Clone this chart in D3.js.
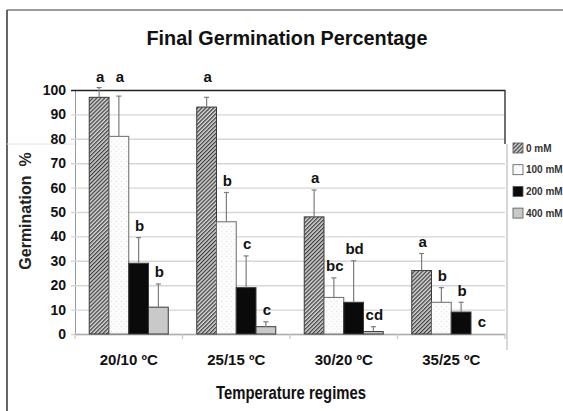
<!DOCTYPE html>
<html>
<head>
<meta charset="utf-8">
<script src="https://cdn.jsdelivr.net/npm/d3@7"></script>
<style>
  html, body { margin: 0; padding: 0; background: #fff; }
  svg { display: block; }
</style>
</head>
<body>
<div id="chart"></div>
<script>
// Data
const categories = ['20/10 ºC', '25/15 ºC', '30/20 ºC', '35/25 ºC'];
const series = ['0 mM', '100 mM', '200 mM', '400 mM'];

const means0 = [97, 93, 48, 26];
const means100 = [81, 46, 15, 13];
const means200 = [29, 19, 13, 9];
const means400 = [11, 3, 1, 0];

const err0 = [4, 4, 11, 7];
const err100 = [16.5, 12, 8, 6];
const err200 = [10.5, 13, 17, 4];
const err400 = [9.5, 2, 2, 0];

const letters0 = ['a', 'a', 'a', 'a'];
const letters100 = ['a', 'b', 'bc', 'b'];
const letters200 = ['b', 'c', 'bd', 'b'];
const letters400 = ['b', 'c', 'cd', 'c'];

const yTicks = [0, 10, 20, 30, 40, 50, 60, 70, 80, 90, 100];

const means = [means0, means100, means200, means400];
const errs = [err0, err100, err200, err400];
const letters = [letters0, letters100, letters200, letters400];

// Layout
const width = 563, height = 411;
const plot = { left: 75, right: 505, top: 90, bottom: 334 };

const svg = d3.select('#chart').append('svg')
  .attr('width', width)
  .attr('height', height);

const defs = svg.append('defs');

// 0 mM: fine upward diagonal hatch
const hatch = defs.append('pattern')
  .attr('id', 'hatch')
  .attr('patternUnits', 'userSpaceOnUse')
  .attr('width', 2.8).attr('height', 2.8)
  .attr('patternTransform', 'rotate(45)');
hatch.append('rect').attr('width', 2.8).attr('height', 2.8).attr('fill', '#d4d4d4');
hatch.append('line').attr('x1', 0.6).attr('y1', 0).attr('x2', 0.6).attr('y2', 2.8)
  .attr('stroke', '#3a3a3a').attr('stroke-width', 1.2);

// 100 mM: white with faint dots
const dots = defs.append('pattern')
  .attr('id', 'dots')
  .attr('patternUnits', 'userSpaceOnUse')
  .attr('width', 5).attr('height', 5);
dots.append('rect').attr('width', 5).attr('height', 5).attr('fill', '#fdfdfd');
dots.append('circle').attr('cx', 1.5).attr('cy', 1.5).attr('r', 0.8).attr('fill', '#e6e6e6');
dots.append('circle').attr('cx', 4).attr('cy', 4).attr('r', 0.8).attr('fill', '#ececec');

const fills = ['url(#hatch)', 'url(#dots)', '#0a0a0a', '#c9c9c9'];

// Scales
const y = d3.scaleLinear().domain([0, 100]).range([plot.bottom, plot.top]);
const x0 = d3.scaleBand().domain(categories)
  .range([plot.left, plot.right])
  .paddingInner(0.265).paddingOuter(0.1325);
const x1 = d3.scaleBand().domain(series).range([0, x0.bandwidth()]);

// Outer frame (left + top)
svg.append('line').attr('x1', 7).attr('y1', 10).attr('x2', width).attr('y2', 10)
  .attr('stroke', '#7a7a7a').attr('stroke-width', 1.6);
svg.append('line').attr('x1', 7).attr('y1', 10).attr('x2', 7).attr('y2', height)
  .attr('stroke', '#555').attr('stroke-width', 1.8);

// faint seam lines
svg.append('line').attr('x1', 7).attr('y1', 144).attr('x2', plot.left).attr('y2', 144)
  .attr('stroke', '#e4e4e4').attr('stroke-width', 1);
svg.append('line').attr('x1', plot.right + 2).attr('y1', 144).attr('x2', plot.right + 2).attr('y2', 350)
  .attr('stroke', '#bdbdbd').attr('stroke-width', 1.2);

// Gridlines + y axis
const yAxis = d3.axisLeft(y).tickValues(yTicks)
  .tickSize(-(plot.right - plot.left)).tickSizeOuter(0).tickPadding(10)
  .tickFormat(d3.format('d'));

const gy = svg.append('g')
  .attr('transform', `translate(${plot.left},0)`)
  .call(yAxis);
gy.select('.domain').attr('stroke', '#9a9a9a');
gy.selectAll('.tick line')
  .attr('x1', -4)
  .attr('stroke', (d) => (d === 100 ? '#222' : '#d6d6d6'))
  .attr('stroke-width', (d) => (d === 100 ? 1.3 : 1.4));
gy.selectAll('.tick text')
  .attr('font-family', '"Liberation Sans", Arial, sans-serif')
  .attr('font-weight', 'bold')
  .attr('font-size', 14)
  .attr('fill', '#111')
  .attr('dx', 1);

// right border of plot (dark top part)
svg.append('line').attr('x1', plot.right).attr('y1', plot.top).attr('x2', plot.right).attr('y2', 144)
  .attr('stroke', '#222').attr('stroke-width', 1.3);

// x axis
const xAxis = d3.axisBottom(x0).tickSize(0).tickPadding(20);
const gx = svg.append('g')
  .attr('transform', `translate(0,${plot.bottom})`)
  .call(xAxis);
gx.select('.domain').attr('stroke', '#b0b0b0').attr('stroke-width', 1.3);
gx.selectAll('.tick text')
  .attr('font-family', '"Liberation Sans", Arial, sans-serif')
  .attr('font-weight', 'bold')
  .attr('font-size', 15)
  .attr('fill', '#111');

// category boundary ticks
const bounds = categories.map((c) => x0(c) - x0.step() * x0.paddingOuter());
bounds.push(plot.right);
svg.append('g').selectAll('line').data(bounds).join('line')
  .attr('x1', (d) => d).attr('x2', (d) => d)
  .attr('y1', plot.bottom).attr('y2', plot.bottom + 5)
  .attr('stroke', '#c8c8c8').attr('stroke-width', 1.2);

// Bars
const rows = [];
categories.forEach((c, i) => {
  series.forEach((s, j) => {
    rows.push({ cat: c, ser: s, j, v: means[j][i], e: errs[j][i], lab: letters[j][i] });
  });
});

const gBars = svg.append('g');
gBars.selectAll('rect').data(rows.filter((d) => d.v > 0)).join('rect')
  .attr('x', (d) => x0(d.cat) + x1(d.ser))
  .attr('y', (d) => y(d.v))
  .attr('width', x1.bandwidth())
  .attr('height', (d) => y(0) - y(d.v))
  .attr('fill', (d) => fills[d.j])
  .attr('stroke', (d) => (d.j === 1 ? '#6a6a6a' : '#3a3a3a'))
  .attr('stroke-width', 1);

// Error bars (upper only)
const gErr = svg.append('g').attr('stroke', '#7d7d7d').attr('stroke-width', 1.2);
rows.filter((d) => d.e > 0).forEach((d) => {
  const cx = x0(d.cat) + x1(d.ser) + x1.bandwidth() / 2;
  gErr.append('line').attr('x1', cx).attr('x2', cx).attr('y1', y(d.v)).attr('y2', y(d.v + d.e));
  gErr.append('line').attr('x1', cx - 2.5).attr('x2', cx + 2.5).attr('y1', y(d.v + d.e)).attr('y2', y(d.v + d.e));
});

// Significance letters
svg.append('g').selectAll('text').data(rows).join('text')
  .attr('x', (d) => x0(d.cat) + x1(d.ser) + x1.bandwidth() / 2 + 1)
  .attr('y', (d) => {
    let ly = y(d.v + d.e) - 12;
    if (ly < plot.top) ly = 77;
    return ly;
  })
  .attr('dy', '0.35em')
  .attr('text-anchor', 'middle')
  .attr('font-family', '"Liberation Sans", Arial, sans-serif')
  .attr('font-weight', 'bold')
  .attr('font-size', 15)
  .attr('fill', '#111')
  .text((d) => d.lab);

// Title
svg.append('text')
  .attr('x', 287).attr('y', 38).attr('dy', '0.35em')
  .attr('text-anchor', 'middle')
  .attr('font-family', '"Liberation Sans Narrow", "Arial Narrow", "Liberation Sans", sans-serif')
  .attr('font-weight', 'bold')
  .attr('font-size', 21)
  .attr('textLength', 281)
  .attr('lengthAdjust', 'spacingAndGlyphs')
  .attr('fill', '#111')
  .text('Final Germination Percentage');

// Axis titles
svg.append('text')
  .attr('x', 291).attr('y', 393).attr('dy', '0.35em')
  .attr('text-anchor', 'middle')
  .attr('font-family', '"Liberation Sans Narrow", "Arial Narrow", "Liberation Sans", sans-serif')
  .attr('font-weight', 'bold')
  .attr('font-size', 18)
  .attr('textLength', 150)
  .attr('lengthAdjust', 'spacingAndGlyphs')
  .attr('fill', '#111')
  .text('Temperature regimes');

svg.append('text')
  .attr('transform', 'translate(25,211) rotate(-90)')
  .attr('dy', '0.35em')
  .attr('text-anchor', 'middle')
  .attr('font-family', '"Liberation Sans", Arial, sans-serif')
  .attr('font-weight', 'bold')
  .attr('font-size', 16)
  .attr('fill', '#222')
  .style('white-space', 'pre')
  .text('Germination  %');

// Legend
const legend = svg.append('g').attr('transform', 'translate(513,148)');
const item = legend.selectAll('g').data(series).join('g')
  .attr('transform', (d, i) => `translate(0,${i * 21.7})`);
item.append('rect')
  .attr('x', 0).attr('y', -5).attr('width', 10).attr('height', 10)
  .attr('fill', (d, i) => fills[i])
  .attr('stroke', '#555').attr('stroke-width', 0.8);
item.append('text')
  .attr('x', 13).attr('dy', '0.35em')
  .attr('font-family', '"Liberation Sans Narrow", "Liberation Sans", Arial, sans-serif')
  .attr('font-size', 10)
  .attr('font-weight', 'bold')
  .attr('fill', '#333')
  .text((d) => d);
</script>
</body>
</html>
